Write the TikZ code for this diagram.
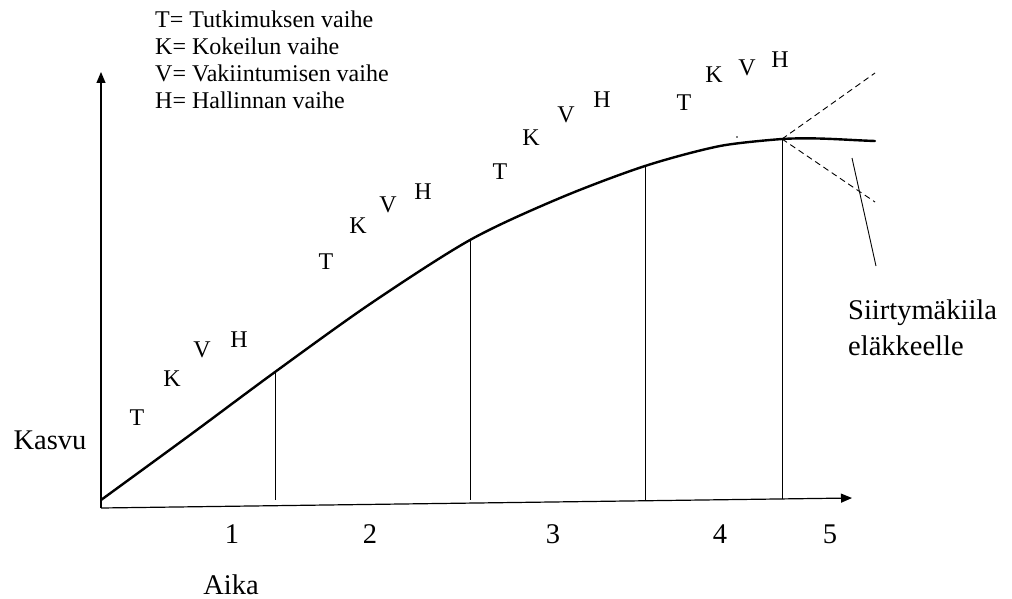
\documentclass[tikz,border=0pt]{standalone}
\usepackage{fontspec}
\setmainfont{Liberation Serif}
\usetikzlibrary{arrows.meta}

\tikzset{
  axis/.style={line width=1.2pt, -{Triangle[length=11pt, width=9pt]}},
  growth/.style={line width=2.4pt, line cap=round},
  phase/.style={line width=0.9pt},
  wedge/.style={line width=0.9pt, dash pattern=on 6pt off 4pt},
  stage/.style={font=\fontsize{24}{24}\selectfont},
  tick/.style={font=\fontsize{28.5}{36}\selectfont},
  legend/.style={font=\fontsize{24}{27}\selectfont, align=left, anchor=north west, inner sep=0pt}
}

\begin{document}
\begin{tikzpicture}[x=1pt, y=-1pt, line join=round]

  % Ikkuna
  \useasboundingbox (0,0) rectangle (1012,599);

  % Akselit
  \coordinate (O) at (101,508);
  \coordinate (yend) at (101,72);
  \coordinate (xend) at (852,498);
  \draw[axis] (O) -- (yend);
  \draw[axis] (O) -- (xend);

  % Kasvukäyrä
  \coordinate (c0) at (101,500);
  \coordinate (c1) at (275,372);
  \coordinate (c2) at (470,240);
  \coordinate (c3) at (645,166);
  \coordinate (c4) at (782,139);
  \coordinate (cend) at (875,141);
  \draw[growth] plot[smooth, tension=0.5] coordinates {(c0) (190,435) (c1) (370,304) (c2) (560,198) (c3) (720,146) (c4)}
    .. controls (815,137) and (845,140) .. (cend);

  % Vaiheiden rajat
  \foreach \p/\b in {c1/{(275,500)}, c2/{(470,500)}, c3/{(645,500)}, c4/{(782,499)}}
    \draw[phase] (\p) -- \b;

  % Siirtymäkiila
  \coordinate (wup) at (875,73);
  \coordinate (wdown) at (875,202);
  \draw[wedge] (c4) -- (wup);
  \draw[wedge] (c4) -- (wdown);
  \fill (737,137) circle (0.8pt);

  % Vaihekirjaimet T K V H
  \foreach \g/\tx/\ty/\kx/\ky/\vx/\vy/\hx/\hy in {
      1/137/418/172/379/202/350/239/340,
      2/326/262/358/226/388/205/423/192,
      3/500/172/531/138/566/115/602/100,
      4/684/103/714/75/747/68/780/60} {
    \node[stage] (T\g) at (\tx,\ty) {T};
    \node[stage] (K\g) at (\kx,\ky) {K};
    \node[stage] (V\g) at (\vx,\vy) {V};
    \node[stage] (H\g) at (\hx,\hy) {H};
  }

  % Aikajaksot
  \foreach \n/\nx in {1/232, 2/370, 3/553, 4/720, 5/830}
    \node[tick] (n\n) at (\nx,534) {\n};

  % Akselien nimet
  \node[tick] (aika) at (231,585) {Aika};
  \node[tick] (kasvu) at (50,440) {Kasvu};

  % Selite
  \node[legend] (selite) at (155,11) {T= Tutkimuksen vaihe\\K= Kokeilun vaihe\\V= Vakiintumisen vaihe\\H= Hallinnan vaihe};

  % Siirtymäkiilan nimi ja osoitin
  \node[tick, align=left, anchor=north west, inner sep=0pt] (kiila) at (848,300) {Siirtymäkiila\\eläkkeelle};
  \coordinate (ptop) at (852,158);
  \coordinate (pbot) at (876,266);
  \draw[phase] (ptop) -- (pbot);

\end{tikzpicture}
\end{document}
